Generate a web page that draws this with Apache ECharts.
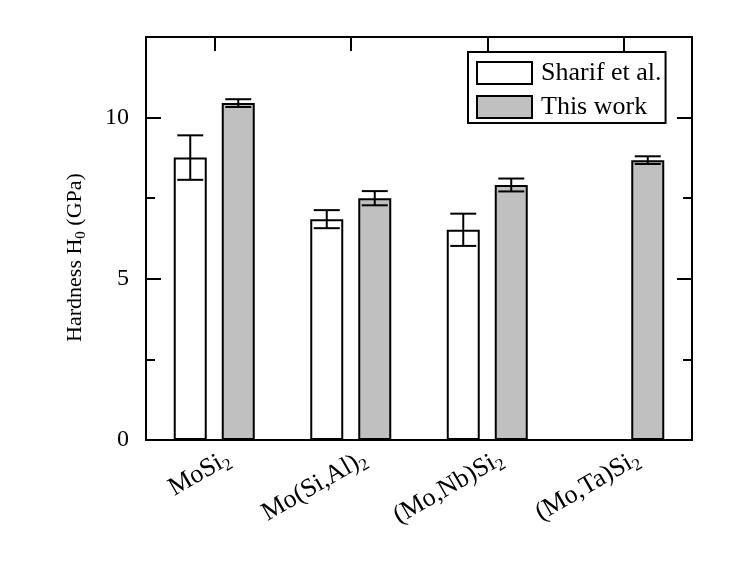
<!DOCTYPE html>
<html>
<head>
<meta charset="utf-8">
<script src="https://cdn.jsdelivr.net/npm/echarts@6/dist/echarts.min.js"></script>
<style>
  html, body { margin: 0; padding: 0; background: #fff; }
  #chart { width: 747px; height: 564px; }
</style>
</head>
<body>
<div id="chart"></div>
<script>
const categories = ['MoSi2', 'Mo(Si,Al)2', '(Mo,Nb)Si2', '(Mo,Ta)Si2'];
const sharifValues = [8.76, 6.85, 6.52, null];
const sharifErrors = [0.69, 0.28, 0.5, null];
const workValues = [10.45, 7.5, 7.91, 8.68];
const workErrors = [0.12, 0.22, 0.2, 0.12];
const yTicks = [0, 5, 10];

const chart = echarts.init(document.getElementById('chart'));

const FONT = 'Liberation Serif';
const BAR_W = 33;
const BAR_GAP = 15;
const HALF = (BAR_W + BAR_GAP) / 2;
const LABEL_SHIFT = 14; // category labels sit a bit right of the bar groups

function withSub(txt) {
  return '{n|' + txt.replace(/2$/, '}{s|2}');
}

function errorData(values, errors) {
  return values
    .map((v, i) => (v == null ? null : [i, v, errors[i]]))
    .filter((d) => d);
}

function errorRenderer(offset) {
  return (params, api) => {
    const i = api.value(0);
    const v = api.value(1);
    const e = api.value(2);
    const hi = api.coord([i, v + e]);
    const lo = api.coord([i, v - e]);
    const x = hi[0] + offset;
    const cap = 13;
    const style = { stroke: '#000', lineWidth: 2 };
    return {
      type: 'group',
      children: [
        { type: 'line', shape: { x1: x, y1: hi[1], x2: x, y2: lo[1] }, style },
        { type: 'line', shape: { x1: x - cap, y1: hi[1], x2: x + cap, y2: hi[1] }, style },
        { type: 'line', shape: { x1: x - cap, y1: lo[1], x2: x + cap, y2: lo[1] }, style }
      ]
    };
  };
}

function yAxis(pos, tickLen, interval, labels) {
  return {
    type: 'value',
    gridIndex: 0,
    position: pos,
    min: 0,
    max: 12.5,
    interval: interval,
    axisLine: { show: true, lineStyle: { color: '#000', width: 2 } },
    axisTick: { show: true, inside: true, length: tickLen, lineStyle: { color: '#000', width: 2 } },
    axisLabel: {
      show: labels,
      margin: 17,
      fontFamily: FONT,
      fontSize: 24,
      color: '#000',
      formatter: (v) => (yTicks.includes(v) ? String(v) : '')
    },
    splitLine: { show: false }
  };
}

const leftMajor = yAxis('left', 15, 5, true);
leftMajor.name = '{n|Hardness H}{s|0}{n| (GPa)}';
leftMajor.nameLocation = 'middle';
leftMajor.nameGap = 57;
leftMajor.nameTextStyle = {
  padding: [0, 38, 0, 0],
  rich: {
    n: { fontFamily: FONT, fontSize: 22, color: '#000' },
    s: { fontFamily: FONT, fontSize: 15, color: '#000', padding: [12, 0, 0, 0] }
  }
};

const option = {
  backgroundColor: '#fff',
  animation: false,
  grid: [
    { left: 146, right: 55, top: 37, bottom: 124 },
    { left: 146 + LABEL_SHIFT, right: 55 - LABEL_SHIFT, top: 37, bottom: 124 }
  ],
  legend: {
    orient: 'vertical',
    left: 468,
    top: 52,
    padding: [8, 4, 3, 8],
    itemGap: 8,
    itemWidth: 55,
    itemHeight: 22,
    backgroundColor: '#fff',
    borderColor: '#000',
    borderWidth: 2,
    borderRadius: 0,
    icon: 'rect',
    textStyle: { fontFamily: FONT, fontSize: 26, lineHeight: 22, color: '#000', padding: [0, 0, 0, 4] },
    data: [
      { name: 'Sharif et al.', itemStyle: { color: '#fff', borderColor: '#000', borderWidth: 2 } },
      { name: 'This work', itemStyle: { color: '#c0c0c0', borderColor: '#000', borderWidth: 2 } }
    ]
  },
  xAxis: [
    {
      type: 'category',
      gridIndex: 0,
      data: categories,
      position: 'bottom',
      axisLine: { show: true, onZero: false, lineStyle: { color: '#000', width: 2 } },
      axisTick: { show: false },
      axisLabel: { show: false }
    },
    {
      type: 'category',
      gridIndex: 0,
      data: categories,
      position: 'top',
      axisLine: { show: true, onZero: false, lineStyle: { color: '#000', width: 2 } },
      axisTick: { show: true, inside: true, alignWithLabel: true, length: 14, lineStyle: { color: '#000', width: 2 } },
      axisLabel: { show: false }
    },
    {
      // label-only axis
      type: 'category',
      gridIndex: 1,
      data: categories,
      position: 'bottom',
      axisLine: { show: false, onZero: false },
      axisTick: { show: false },
      axisLabel: {
        interval: 0,
        rotate: 30,
        margin: 17,
        formatter: (v) => withSub(v),
        rich: {
          n: { fontFamily: FONT, fontSize: 26, color: '#000' },
          s: { fontFamily: FONT, fontSize: 17, color: '#000', padding: [14, 0, 0, 0] }
        }
      }
    }
  ],
  yAxis: [
    leftMajor,
    yAxis('left', 9, 2.5, false),
    yAxis('right', 15, 5, false),
    yAxis('right', 9, 2.5, false),
    { type: 'value', gridIndex: 1, show: false, min: 0, max: 12.5 }
  ],
  series: [
    {
      name: 'Sharif et al.',
      type: 'bar',
      data: sharifValues,
      barWidth: BAR_W,
      barGap: (BAR_GAP / BAR_W * 100) + '%',
      itemStyle: { color: '#fff', borderColor: '#000', borderWidth: 2 }
    },
    {
      name: 'This work',
      type: 'bar',
      data: workValues,
      barWidth: BAR_W,
      itemStyle: { color: '#c0c0c0', borderColor: '#000', borderWidth: 2 }
    },
    {
      name: 'err1',
      type: 'custom',
      renderItem: errorRenderer(-HALF),
      data: errorData(sharifValues, sharifErrors),
      encode: { x: 0, y: 1 },
      z: 5
    },
    {
      name: 'err2',
      type: 'custom',
      renderItem: errorRenderer(HALF),
      data: errorData(workValues, workErrors),
      encode: { x: 0, y: 1 },
      z: 5
    }
  ]
};

chart.setOption(option);

window.addEventListener('resize', () => {
  chart.resize();
});
</script>
</body>
</html>
